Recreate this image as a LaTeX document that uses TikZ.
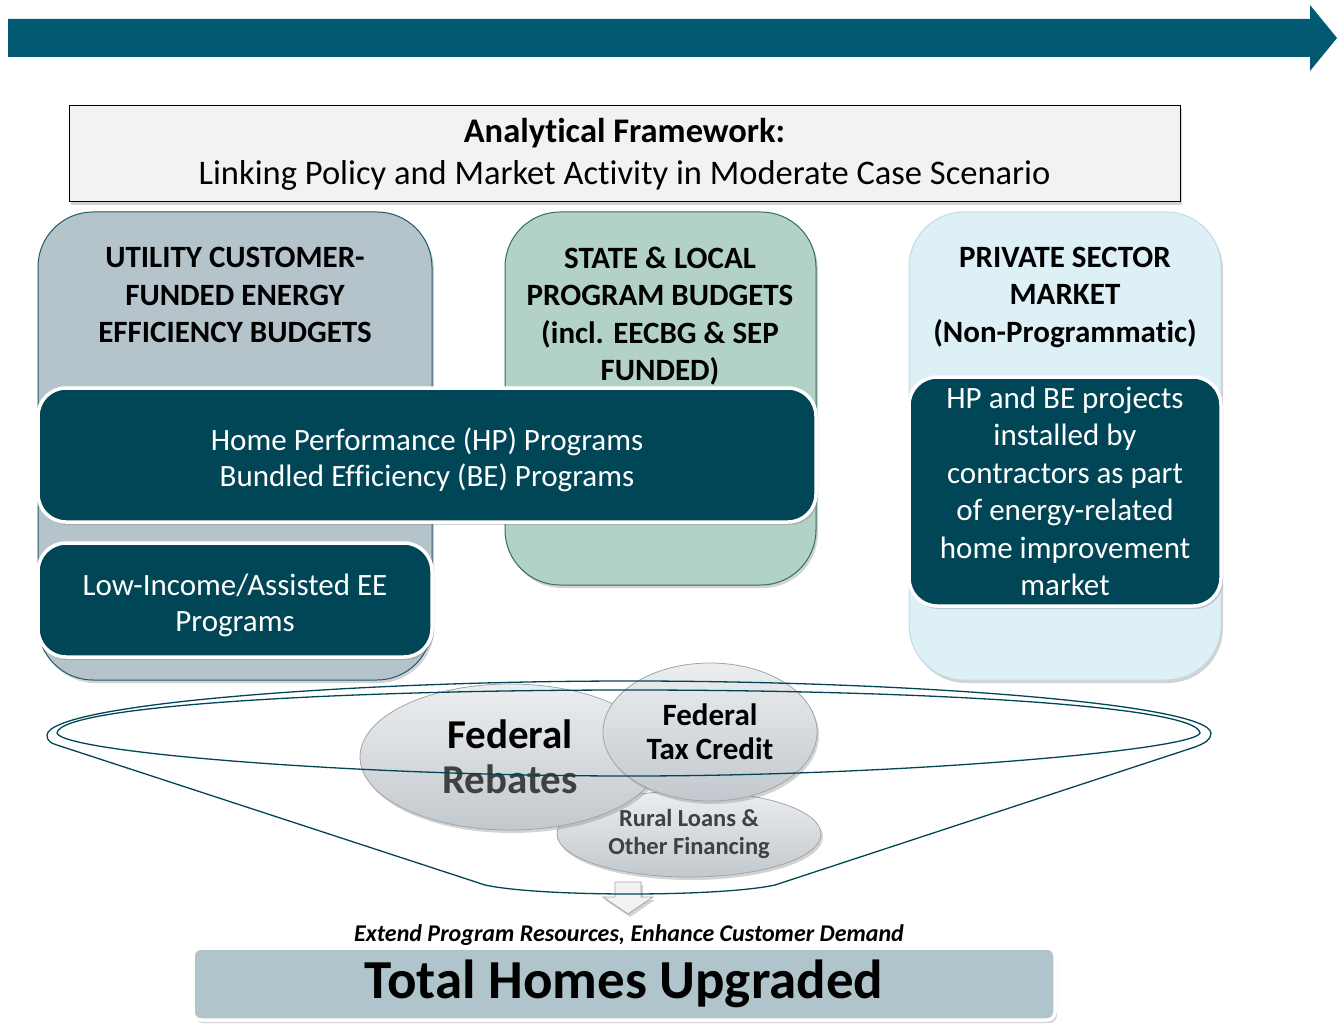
\documentclass[tikz,border=0pt]{standalone}
\usepackage{fontspec}
\setmainfont{Carlito}[Ligatures=NoCommon]
\usepackage{tikz}
\usetikzlibrary{shapes.geometric,shadows}

\definecolor{arrowblue}{RGB}{2,90,114}
\definecolor{framegray}{RGB}{242,242,242}
\definecolor{utilfill}{RGB}{181,196,203}
\definecolor{utiledge}{RGB}{30,90,104}
\definecolor{statefill}{RGB}{178,210,198}
\definecolor{stateedge}{RGB}{50,112,86}
\definecolor{privfill}{RGB}{221,240,245}
\definecolor{privedge}{RGB}{196,218,226}
\definecolor{darkteal}{RGB}{1,70,86}
\definecolor{bubtop}{RGB}{236,238,240}
\definecolor{bubbot}{RGB}{194,200,205}
\definecolor{bubedge}{RGB}{160,165,170}
\definecolor{softgray}{RGB}{64,64,64}
\definecolor{totalfill}{RGB}{175,197,203}

\tikzset{
	softshadow/.style={drop shadow={shadow xshift=2pt,shadow yshift=-3pt,opacity=0.35}},
	column/.style={rounded corners=55pt, line width=1pt, softshadow},
	colhead/.style={font=\bfseries\fontsize{31}{37.5}\selectfont, align=center},
	darkbox/.style={fill=darkteal, draw=white, line width=3.5pt, rounded corners=28pt,
		text=white, align=center, font=\fontsize{31}{36}\selectfont, softshadow},
	bubble/.style={ellipse, draw=bubedge, line width=0.8pt, top color=bubtop,
		bottom color=bubbot, align=center, inner sep=0pt, softshadow},
	funnel/.style={draw=darkteal, line width=1.3pt}
}

\begin{document}
\begin{tikzpicture}[x=1pt,y=-1pt]
	\useasboundingbox (0,0) rectangle (1343,1024);

	% long arrow on top
	\fill[arrowblue] (8,19) -- (1310,19) -- (1310,5) -- (1337,38) -- (1310,71)
		-- (1310,57) -- (8,57) -- cycle;

	% title box
	\node[draw=black, line width=1pt, fill=framegray, minimum width=1111pt,
		minimum height=96pt, align=center, softshadow,
		font=\fontsize{34.5}{42}\selectfont] (frame) at (624.5,154)
		{\textbf{Analytical Framework:}\\Linking Policy and Market Activity in Moderate Case Scenario};

	% the three columns
	\draw[column, fill=utilfill, draw=utiledge] (38,212) rectangle (432,680);
	\draw[column, fill=statefill, draw=stateedge] (505,212) rectangle (816,585);
	\draw[column, fill=privfill, draw=privedge] (909,212) rectangle (1221,680);

	\node[colhead] (utilhead) at (235,295) {UTILITY CUSTOMER-\\FUNDED ENERGY\\EFFICIENCY BUDGETS};
	\node[colhead] (statehead) at (660,316) {STATE \& LOCAL\\PROGRAM BUDGETS\\(incl. EECBG \& SEP\\FUNDED)};
	\node[colhead] (privhead) at (1065,297) {PRIVATE SECTOR\\MARKET\\(Non-Programmatic)};

	% dark program boxes
	\node[darkbox, minimum width=778pt, minimum height=134pt] (hp) at (427,455) {};
	\node[text=white, align=center, font=\fontsize{31}{36}\selectfont] (hptext) at (427,460)
		{Home Performance (HP) Programs\\Bundled Efficiency (BE) Programs};
	\node[darkbox, minimum width=394pt, minimum height=114pt] (lowinc) at (235,600) {};
	\node[text=white, align=center, font=\fontsize{31}{36}\selectfont] (lowtext) at (235,605)
		{Low-Income/Assisted EE\\Programs};
	\node[darkbox, minimum width=312pt, minimum height=229pt,
		font=\fontsize{31}{37.5}\selectfont] (privbox) at (1065,491.5)
		{HP and BE projects\\installed by\\contractors as part\\of energy-related\\home improvement\\market};

	% federal bubbles
	\node[bubble, minimum width=264pt, minimum height=86pt,
		font=\bfseries\fontsize{24.5}{28}\selectfont, text=softgray] (rural) at (689,834)
		{Rural Loans \&\\Other Financing};
	\node[bubble, minimum width=300pt, minimum height=146pt,
		font=\bfseries\fontsize{41}{45}\selectfont] (rebates) at (510,757)
		{Federal\\\textcolor{softgray}{Rebates}};
	\node[bubble, minimum width=214pt, minimum height=138pt,
		font=\bfseries\fontsize{31}{34}\selectfont] (taxcredit) at (710,732)
		{Federal\\Tax Credit};

	% small down arrow
	\draw[fill=framegray, draw=bubedge, line width=0.8pt, softshadow] (615,882) -- (641,882)
		-- (641,897) -- (653,897) -- (628,914) -- (603,897) -- (615,897) -- cycle;

	% funnel lines
	\path[funnel] (57,733) .. controls (60,705) and (350,690) .. (630,690)
		.. controls (910,690) and (1197,705) .. (1200,733)
		.. controls (1195,750) and (900,776) .. (630,776)
		.. controls (350,776) and (62,752) .. cycle;
	\path[funnel] (47,735) .. controls (50,704) and (350,681) .. (630,681)
		.. controls (910,681) and (1208,704) .. (1211,733)
		.. controls (1211,740) and (1205,743) .. (1195,747)
		-- (775,885) .. controls (720,897) and (540,897) .. (485,885)
		-- (60,746) .. controls (50,743) and (47,741) .. cycle;

	% result
	\node[font=\bfseries\itshape\fontsize{24}{28}\selectfont] (extend) at (629,935)
		{Extend Program Resources, Enhance Customer Demand};
	\node[fill=totalfill, draw=white, line width=3.5pt, rounded corners=8pt,
		minimum width=862pt, minimum height=72pt, softshadow,
		font=\bfseries\fontsize{55}{60}\selectfont] (total) at (624,984)
		{Total Homes Upgraded};
\end{tikzpicture}
\end{document}
